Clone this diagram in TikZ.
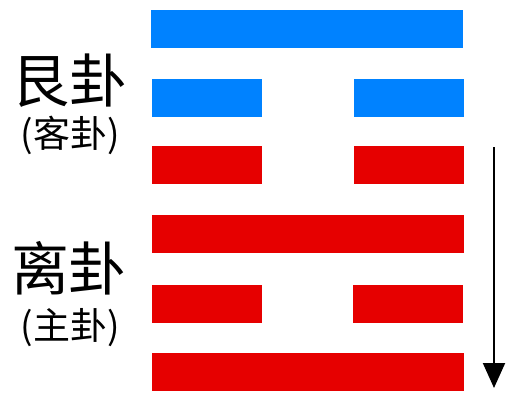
\documentclass[tikz,border=0pt]{standalone}
\usepackage{fontspec}
\newfontfamily\cjk{Noto Sans CJK SC}
\usetikzlibrary{arrows.meta}
\definecolor{yaoblue}{RGB}{0,130,255}
\definecolor{yaored}{RGB}{230,0,0}
\tikzset{
  yang/.style={fill=#1,draw=none,inner sep=0pt,minimum width=312pt,minimum height=38pt},
  yin/.style={fill=#1,draw=none,inner sep=0pt,minimum width=110pt,minimum height=38pt},
  biglabel/.style={font=\cjk\fontsize{58}{58}\selectfont,inner sep=0pt},
  smalllabel/.style={font=\cjk\fontsize{37}{37}\selectfont,inner sep=0pt}
}
\begin{document}
\begin{tikzpicture}[x=1pt,y=-1pt]
\useasboundingbox (0,0) rectangle (512,402);
% Upper trigram (blue and red lines)
\node[yang=yaoblue] (line6) at (307,28.5) {};
\node[yin=yaoblue] (line5l) at (206.5,98) {};
\node[yin=yaoblue] (line5r) at (409,98) {};
\node[yin=yaored] (line4l) at (206.5,165) {};
\node[yin=yaored] (line4r) at (409,165) {};
% Lower trigram
\node[yang=yaored] (line3) at (308,234) {};
\node[yin=yaored] (line2l) at (207,304) {};
\node[yin=yaored] (line2r) at (408,304) {};
\node[yang=yaored] (line1) at (308,372) {};
% Labels of the two trigrams
\node[biglabel] (gen) at (70,81) {艮卦};
\node[smalllabel] (gensub) at (70,135) {(客卦)};
\node[biglabel] (li) at (69,268) {离卦};
\node[smalllabel] (lisub) at (70,328) {(主卦)};
% Reading direction
\coordinate (arrowtop) at (494,147);
\coordinate (arrowbot) at (494,388);
\draw[line width=2pt,-{Triangle[width=22pt,length=25pt]}] (arrowtop) -- (arrowbot);
\end{tikzpicture}
\end{document}
